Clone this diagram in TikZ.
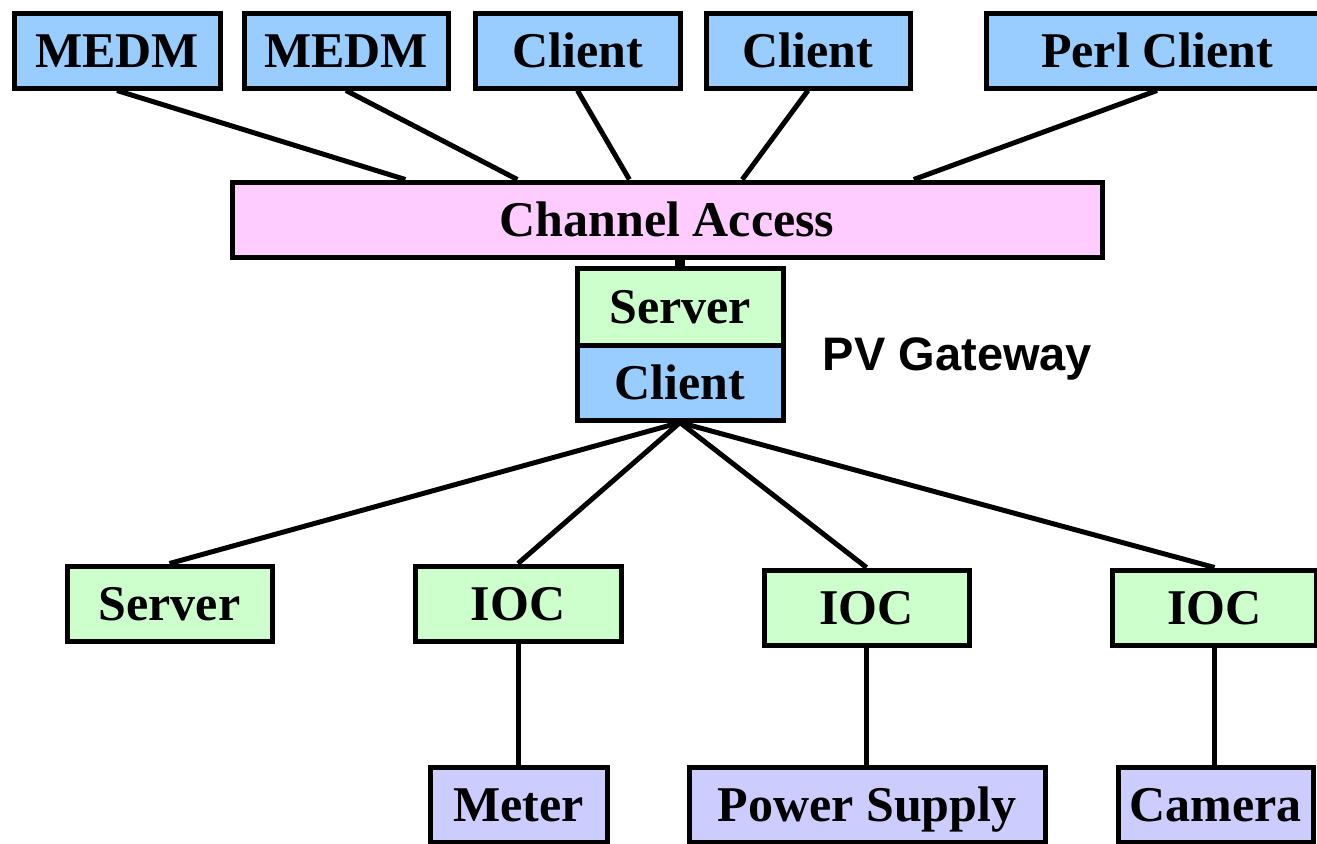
\documentclass[tikz,border=0pt]{standalone}
\usepackage{fontspec}
\setmainfont{Liberation Serif}
\newfontfamily\labelsans{Liberation Sans}
\usetikzlibrary{calc}
\definecolor{cablue}{HTML}{99CCFF}
\definecolor{cagreen}{HTML}{CCFFCC}
\definecolor{capink}{HTML}{FFCCFF}
\definecolor{calav}{HTML}{CCCCFF}
\begin{document}
\begin{tikzpicture}[x=0.5pt,y=-0.5pt,
  unit/.style={draw=black, line width=2.5pt, rectangle, inner sep=0pt,
    minimum height=37.5pt, font=\fontsize{25}{30}\selectfont\bfseries,
    text height=16.5pt, text depth=0pt},
  client/.style={unit, fill=cablue},
  server/.style={unit, fill=cagreen},
  access/.style={unit, fill=capink},
  device/.style={unit, fill=calav},
  link/.style={line width=2.5pt, line cap=butt}]
\useasboundingbox (0,0) rectangle (1317,843);

% client applications
\node[client, minimum width=103pt] (medmA) at (117,50.5) {MEDM};
\node[client, minimum width=102pt] (medmB) at (346,50.5) {MEDM};
\node[client, minimum width=102.5pt] (clientA) at (577.5,50.5) {Client};
\node[client, minimum width=102pt] (clientB) at (808,50.5) {Client};
\node[client, minimum width=171pt] (perl) at (1157,50.5) {Perl Client};

% channel access bus
\node[access, minimum width=435pt] (ca) at (667,219.5) {Channel Access};

% gateway: server half on top of client half
\node[server, minimum width=103pt, minimum height=38.5pt] (gws) at (680,306.5) {Server};
\node[client, minimum width=103pt] (gwc) at (680,382.5) {Client};
\node[font=\labelsans\fontsize{23.5}{28}\selectfont\bfseries, anchor=base, inner sep=0pt] (gwlabel) at (957.5,370) {PV Gateway};

% servers and IOCs
\node[server, minimum width=102.5pt] (srv) at (169.5,603.5) {Server};
\node[server, minimum width=103pt] (iocA) at (518,603.5) {IOC};
\node[server, minimum width=102.5pt] (iocB) at (866.5,607.5) {IOC};
\node[server, minimum width=102pt] (iocC) at (1214.5,607.5) {IOC};

% hardware
\node[device, minimum width=88.5pt] (meter) at (518.5,805) {Meter};
\node[device, minimum width=178pt] (psu) at (867,805) {Power Supply};
\node[device, minimum width=97.5pt] (cam) at (1215.5,805) {Camera};

% clients onto channel access
\draw[link] (medmA.south) -- ($(ca.north west)!0.201!(ca.north east)$);
\draw[link] (medmB.south) -- ($(ca.north west)!0.329!(ca.north east)$);
\draw[link] (clientA.south) -- ($(ca.north west)!0.457!(ca.north east)$);
\draw[link] (clientB.south) -- ($(ca.north west)!0.586!(ca.north east)$);
\draw[link] (perl.south) -- ($(ca.north west)!0.782!(ca.north east)$);

% channel access to gateway
\draw[line width=5pt] (gws.north |- ca.south) -- (gws.north);

% gateway fan-out
\draw[link] (gwc.south) -- (srv.north);
\draw[link] (gwc.south) -- (iocA.north);
\draw[link] (gwc.south) -- (iocB.north);
\draw[link] (gwc.south) -- (iocC.north);

% IOCs to hardware
\draw[link] (iocA.south) -- (iocA.south |- meter.north);
\draw[link] (iocB.south) -- (iocB.south |- psu.north);
\draw[link] (iocC.south) -- (iocC.south |- cam.north);
\end{tikzpicture}
\end{document}
